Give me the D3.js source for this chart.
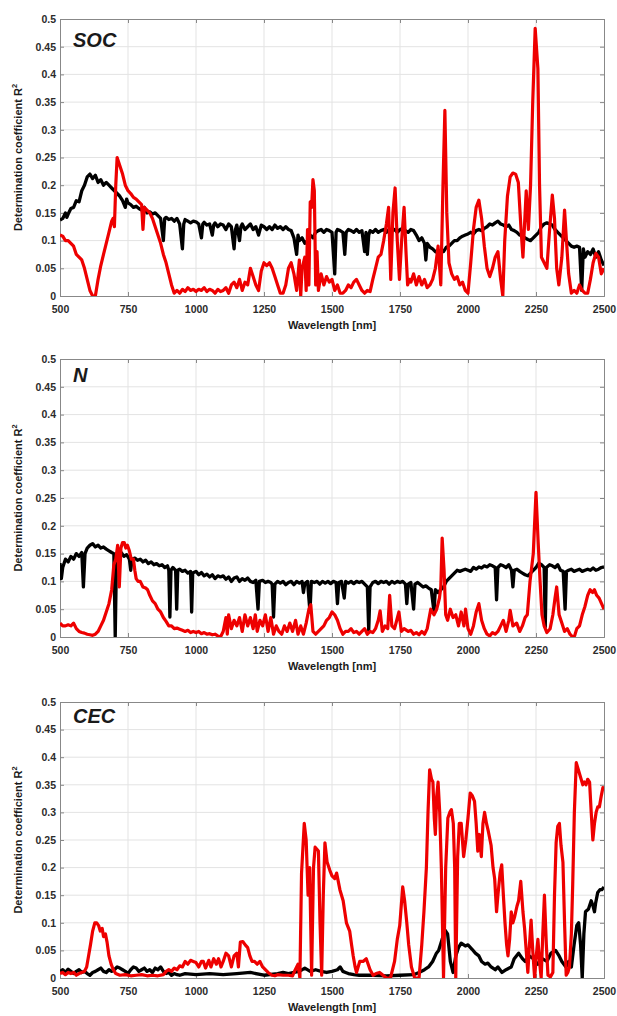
<!DOCTYPE html>
<html><head><meta charset="utf-8">
<script src="https://cdn.jsdelivr.net/npm/d3@7"></script>
<style>body{margin:0;background:#fff}svg{display:block}text{font-family:"Liberation Sans",Arial,sans-serif}</style>
</head><body><div id="chart"></div>
<script>
// ---- data ----
const panelLabels = ["SOC", "N", "CEC"];
const xTicks = [500, 750, 1000, 1250, 1500, 1750, 2000, 2250, 2500];
const yTicks = [0, 0.05, 0.1, 0.15, 0.2, 0.25, 0.3, 0.35, 0.4, 0.45, 0.5];
const yTickLabels = ["0", "0.05", "0.1", "0.15", "0.2", "0.25", "0.3", "0.35", "0.4", "0.45", "0.5"];
const xTitle = "Wavelength [nm]";
const yTitle = "Determination coefficient R";

const socBlack = [[500,.137],[510,.14],[520,.15],[525,.142],[530,.148],[540,.158],[550,.16],[560,.172],[570,.17],[580,.19],[590,.2],[600,.215],[610,.22],[620,.212],[630,.218],[640,.205],[650,.21],[660,.2],[670,.205],[680,.2],[690,.195],[700,.19],[710,.185],[720,.18],[730,.172],[740,.16],[745,.175],[750,.168],[760,.165],[770,.16],[780,.162],[790,.158],[800,.155],[810,.16],[820,.15],[830,.152],[840,.148],[850,.15],[860,.145],[870,.14],[880,.1],[885,.14],[890,.142],[900,.138],[910,.14],[920,.135],[930,.14],[940,.13],[950,.085],[955,.13],[960,.138],[970,.135],[980,.132],[990,.135],[1000,.134],[1010,.13],[1020,.105],[1025,.13],[1030,.133],[1040,.128],[1050,.13],[1060,.11],[1065,.128],[1070,.132],[1080,.125],[1090,.13],[1100,.128],[1110,.12],[1120,.13],[1130,.125],[1140,.085],[1145,.12],[1150,.128],[1160,.1],[1165,.125],[1170,.13],[1180,.12],[1190,.125],[1200,.13],[1210,.12],[1220,.125],[1230,.11],[1240,.128],[1250,.125],[1260,.12],[1270,.125],[1280,.12],[1290,.128],[1300,.122],[1310,.125],[1320,.12],[1330,.125],[1340,.12],[1350,.118],[1360,.105],[1370,.075],[1375,.11],[1380,.1],[1390,.105],[1400,.095],[1410,.1],[1420,.11],[1430,.105],[1440,.115],[1450,.118],[1460,.12],[1470,.115],[1480,.12],[1490,.118],[1500,.115],[1510,.04],[1515,.115],[1520,.12],[1530,.118],[1540,.115],[1547,.075],[1552,.115],[1560,.12],[1570,.118],[1580,.115],[1590,.12],[1600,.115],[1610,.118],[1620,.08],[1625,.115],[1630,.075],[1635,.11],[1640,.118],[1650,.115],[1660,.12],[1670,.115],[1680,.118],[1690,.12],[1700,.115],[1710,.12],[1720,.118],[1730,.12],[1740,.115],[1750,.12],[1760,.122],[1770,.118],[1780,.115],[1790,.12],[1800,.118],[1810,.11],[1820,.1],[1830,.105],[1840,.095],[1845,.065],[1850,.095],[1860,.088],[1870,.085],[1880,.08],[1890,.078],[1900,.082],[1910,.08],[1920,.088],[1930,.09],[1940,.095],[1950,.1],[1960,.1],[1970,.105],[1980,.108],[1990,.11],[2000,.112],[2010,.115],[2020,.112],[2030,.118],[2040,.12],[2050,.118],[2060,.122],[2070,.125],[2080,.13],[2090,.128],[2100,.132],[2110,.135],[2120,.13],[2130,.128],[2140,.125],[2150,.128],[2160,.12],[2170,.118],[2180,.115],[2190,.11],[2200,.108],[2210,.105],[2220,.102],[2230,.1],[2240,.105],[2250,.11],[2260,.115],[2270,.125],[2280,.13],[2290,.132],[2300,.13],[2310,.128],[2320,.12],[2330,.115],[2340,.11],[2350,.105],[2360,.1],[2370,.095],[2380,.09],[2390,.088],[2400,.09],[2410,.088],[2418,.01],[2424,.085],[2430,.07],[2440,.08],[2450,.075],[2460,.085],[2470,.07],[2480,.08],[2490,.065],[2500,.055]];

const socRed = [[500,.11],[510,.108],[520,.1],[530,.1],[540,.095],[550,.09],[560,.075],[570,.07],[580,.065],[590,.05],[600,.03],[610,.01],[620,0],[630,0],[640,.03],[650,.055],[660,.075],[670,.095],[680,.115],[690,.135],[695,.14],[700,.125],[705,.2],[710,.25],[720,.235],[730,.22],[740,.2],[750,.19],[760,.185],[770,.178],[780,.175],[790,.17],[800,.165],[805,.12],[810,.16],[820,.155],[830,.15],[840,.14],[850,.125],[860,.11],[870,.095],[880,.075],[890,.06],[900,.04],[910,.02],[920,.005],[930,.01],[940,.005],[950,.012],[960,.008],[970,.015],[980,.01],[990,.012],[1000,.008],[1010,.012],[1020,.01],[1030,.015],[1040,.008],[1050,.012],[1060,.01],[1070,.005],[1080,.012],[1090,.008],[1100,.01],[1110,.015],[1120,.005],[1130,.02],[1140,.025],[1150,.015],[1160,.03],[1170,.01],[1180,.025],[1190,.02],[1200,.05],[1210,.035],[1220,.02],[1230,.01],[1240,.045],[1250,.06],[1260,.055],[1270,.06],[1280,.05],[1290,.035],[1300,.02],[1310,.005],[1320,.005],[1330,.02],[1340,.05],[1350,.06],[1360,.04],[1370,.01],[1380,.065],[1385,0],[1390,.05],[1400,.07],[1405,.01],[1410,.12],[1415,.02],[1420,.17],[1425,.16],[1430,.21],[1435,.19],[1440,.02],[1445,.08],[1450,.01],[1460,.04],[1470,.02],[1480,.035],[1490,.025],[1500,.03],[1510,.01],[1520,.02],[1530,.005],[1540,.005],[1550,.01],[1560,.02],[1570,.015],[1580,.025],[1590,.03],[1600,.02],[1610,.01],[1620,.005],[1630,.01],[1640,.008],[1650,.03],[1660,.05],[1670,.07],[1680,.075],[1690,.1],[1700,.13],[1708,.16],[1716,.03],[1724,.15],[1732,.195],[1740,.1],[1748,.03],[1756,.1],[1765,.16],[1772,.08],[1778,.02],[1785,.03],[1790,.025],[1800,.04],[1810,.02],[1820,.035],[1830,.02],[1840,.03],[1850,.015],[1860,.02],[1870,.03],[1880,.05],[1890,.09],[1900,.02],[1908,.2],[1915,.335],[1922,.15],[1930,.06],[1940,.04],[1950,.03],[1960,.035],[1970,.02],[1980,.025],[1990,.01],[2000,.005],[2010,.06],[2020,.12],[2030,.16],[2040,.173],[2050,.14],[2060,.09],[2070,.05],[2080,.035],[2090,.05],[2100,.07],[2110,.08],[2120,.03],[2128,0],[2135,.1],[2145,.18],[2155,.215],[2165,.222],[2175,.22],[2185,.205],[2195,.12],[2202,.07],[2208,.13],[2214,.19],[2222,.12],[2230,.2],[2238,.35],[2247,.483],[2257,.41],[2263,.2],[2270,.07],[2280,.06],[2290,.05],[2300,.12],[2310,.182],[2318,.14],[2326,.05],[2334,.02],[2345,.07],[2355,.155],[2362,.1],[2370,.04],[2380,.005],[2390,.01],[2400,.005],[2410,.02],[2420,.01],[2430,.005],[2440,.005],[2450,.03],[2460,.06],[2470,.077],[2480,.07],[2490,.04],[2500,.05]];

const nBlack = [[500,.133],[505,.105],[510,.125],[520,.14],[530,.135],[540,.145],[550,.14],[560,.15],[570,.145],[580,.152],[586,.09],[592,.15],[600,.16],[610,.165],[620,.168],[630,.162],[640,.165],[650,.16],[660,.162],[670,.158],[680,.155],[690,.152],[698,.15],[703,0],[708,.15],[715,.148],[725,.152],[735,.145],[745,.148],[755,.14],[760,.12],[765,.14],[775,.142],[785,.138],[795,.14],[805,.135],[815,.138],[825,.132],[835,.135],[845,.13],[855,.132],[865,.128],[875,.13],[885,.125],[895,.128],[900,.12],[904,.036],[908,.12],[915,.125],[925,.12],[929,.05],[933,.12],[940,.122],[950,.118],[960,.12],[970,.115],[980,.118],[984,.045],[988,.115],[1000,.118],[1010,.112],[1020,.116],[1030,.11],[1040,.113],[1050,.108],[1060,.112],[1070,.105],[1080,.11],[1090,.108],[1100,.11],[1110,.104],[1120,.108],[1130,.1],[1140,.106],[1150,.108],[1160,.1],[1170,.105],[1180,.102],[1190,.106],[1200,.1],[1210,.098],[1220,.102],[1228,.05],[1233,.1],[1245,.102],[1255,.098],[1265,.1],[1275,.098],[1280,.095],[1285,.036],[1290,.095],[1300,.1],[1310,.097],[1320,.1],[1330,.094],[1340,.098],[1350,.1],[1360,.094],[1370,.1],[1380,.097],[1390,.1],[1395,.08],[1400,.096],[1410,.1],[1419,.045],[1424,.1],[1435,.098],[1445,.1],[1455,.095],[1465,.1],[1475,.097],[1485,.1],[1495,.096],[1505,.1],[1515,.098],[1520,.06],[1525,.098],[1535,.1],[1545,.07],[1550,.1],[1560,.097],[1570,.1],[1580,.096],[1590,.1],[1600,.098],[1610,.1],[1620,.095],[1630,.09],[1635,.012],[1640,.09],[1650,.098],[1660,.1],[1670,.096],[1680,.1],[1690,.098],[1700,.1],[1710,.095],[1720,.1],[1730,.097],[1740,.1],[1750,.098],[1760,.1],[1770,.095],[1775,.06],[1780,.095],[1790,.098],[1800,.05],[1805,.095],[1815,.098],[1825,.094],[1835,.09],[1845,.092],[1855,.088],[1865,.085],[1875,.045],[1880,.085],[1890,.08],[1900,.085],[1910,.09],[1920,.1],[1930,.105],[1940,.11],[1950,.115],[1960,.12],[1970,.118],[1980,.12],[1990,.122],[2000,.12],[2010,.118],[2020,.125],[2030,.122],[2040,.126],[2050,.124],[2060,.128],[2070,.126],[2080,.13],[2090,.128],[2100,.125],[2105,.067],[2110,.125],[2120,.13],[2130,.128],[2140,.125],[2150,.13],[2160,.12],[2165,.09],[2170,.12],[2180,.122],[2190,.118],[2200,.115],[2210,.112],[2220,.11],[2230,.115],[2240,.12],[2250,.125],[2260,.133],[2270,.13],[2280,.125],[2284,.018],[2288,.125],[2300,.13],[2310,.128],[2320,.125],[2330,.13],[2340,.12],[2350,.118],[2357,.05],[2362,.118],[2370,.12],[2380,.122],[2390,.118],[2400,.12],[2410,.122],[2420,.118],[2430,.12],[2440,.122],[2450,.12],[2460,.124],[2470,.12],[2480,.122],[2490,.125],[2500,.126]];

const nRed = [[500,.025],[510,.02],[520,.02],[530,.022],[540,.02],[550,.025],[560,.015],[570,.01],[580,.008],[590,.007],[600,.005],[610,.004],[620,.003],[630,.005],[640,.01],[650,.02],[660,.03],[670,.045],[680,.06],[690,.085],[698,.13],[705,.14],[712,.165],[718,.09],[724,.16],[730,.17],[736,.17],[742,.16],[748,.165],[755,.155],[762,.14],[770,.14],[775,.12],[780,.105],[787,.1],[795,.1],[805,.09],[815,.088],[822,.085],[830,.075],[840,.065],[850,.06],[860,.05],[870,.045],[880,.035],[890,.028],[900,.02],[910,.02],[920,.015],[930,.016],[940,.014],[950,.012],[960,.01],[970,.012],[980,.008],[990,.01],[1000,.008],[1010,.01],[1020,.006],[1030,.008],[1040,.005],[1050,.006],[1060,.004],[1070,.005],[1080,.002],[1090,0],[1100,.01],[1110,.035],[1115,.005],[1120,.04],[1130,.015],[1140,.03],[1150,.02],[1160,.035],[1170,.01],[1180,.04],[1190,.02],[1200,.035],[1210,.015],[1218,.04],[1225,.01],[1235,.03],[1245,.02],[1255,.04],[1265,.01],[1275,.035],[1285,.005],[1295,.02],[1305,.01],[1315,.005],[1325,.02],[1335,.01],[1345,.025],[1355,.01],[1366,.03],[1375,.005],[1385,.02],[1395,.005],[1405,.025],[1415,.05],[1422,.058],[1430,.01],[1440,.005],[1450,.01],[1460,.015],[1470,.02],[1480,.03],[1490,.035],[1500,.045],[1510,.04],[1520,.03],[1530,.015],[1540,.005],[1550,.01],[1560,.01],[1570,.015],[1580,.008],[1590,.01],[1600,.005],[1610,.01],[1620,.015],[1630,.005],[1640,.01],[1650,.008],[1660,.015],[1670,.03],[1677,.047],[1685,.01],[1695,.02],[1705,.015],[1712,.075],[1720,.02],[1730,.015],[1746,.045],[1755,.01],[1765,.015],[1780,.01],[1790,.012],[1800,.005],[1810,.008],[1820,.004],[1830,.01],[1840,.005],[1850,.015],[1863,.05],[1875,.04],[1885,.05],[1895,.07],[1900,.09],[1905,.178],[1912,.12],[1918,.04],[1925,.03],[1935,.05],[1945,.035],[1955,.04],[1965,.02],[1975,.045],[1985,.02],[1991,.05],[2000,.015],[2010,.005],[2020,.02],[2030,.045],[2040,.06],[2050,.03],[2060,.015],[2070,.005],[2080,.002],[2090,.008],[2100,.005],[2110,.01],[2120,.02],[2130,.03],[2140,.01],[2150,.03],[2155,.048],[2165,.02],[2179,.025],[2190,.01],[2200,.02],[2210,.035],[2218,.04],[2228,.1],[2240,.15],[2250,.26],[2258,.17],[2265,.1],[2272,.04],[2280,.02],[2290,.008],[2302,.015],[2312,.04],[2320,.07],[2326,.09],[2335,.04],[2345,.025],[2355,.01],[2365,.015],[2375,.005],[2385,0],[2392,.002],[2400,.015],[2410,.02],[2420,.04],[2430,.055],[2440,.075],[2449,.085],[2458,.08],[2465,.085],[2473,.075],[2482,.07],[2491,.06],[2500,.05]];

const cecBlack = [[500,.012],[510,.015],[520,.01],[530,.016],[540,.012],[550,.008],[560,.012],[570,.015],[580,.01],[590,.012],[600,.008],[610,.005],[620,.01],[630,.012],[640,.015],[650,.018],[660,.012],[670,.01],[680,.015],[690,.012],[700,.015],[710,.02],[720,.018],[730,.015],[740,.012],[750,.008],[760,.015],[770,.02],[780,.018],[790,.012],[800,.015],[810,.018],[820,.012],[830,.015],[840,.01],[850,.018],[860,.015],[870,.02],[880,.012],[890,.008],[900,.01],[910,.005],[920,.008],[930,.006],[940,.005],[960,.008],[1000,.006],[1050,.008],[1100,.006],[1150,.008],[1200,.01],[1250,.005],[1300,.008],[1320,.01],[1340,.008],[1360,.01],[1380,.012],[1400,.018],[1420,.012],[1440,.015],[1460,.012],[1480,.01],[1500,.012],[1520,.015],[1530,.02],[1540,.012],[1550,.01],[1560,.008],[1580,.006],[1600,.005],[1650,.005],[1700,.004],[1750,.005],[1800,.006],[1820,.01],[1840,.015],[1855,.02],[1870,.03],[1884,.045],[1892,.05],[1905,.07],[1915,.087],[1925,.08],[1935,.03],[1945,.01],[1955,.04],[1965,.055],[1975,.063],[1990,.058],[2000,.06],[2015,.052],[2027,.045],[2040,.04],[2050,.03],[2063,.025],[2073,.027],[2085,.02],[2100,.015],[2110,.02],[2125,.01],[2140,.015],[2159,.02],[2170,.035],[2186,.045],[2200,.035],[2210,.03],[2225,.04],[2240,.035],[2257,.025],[2273,.035],[2290,.03],[2305,.045],[2322,.05],[2335,.04],[2345,.03],[2360,.02],[2370,.03],[2380,.02],[2390,.06],[2400,.095],[2407,.1],[2414,.06],[2420,0],[2426,.08],[2432,.12],[2443,.125],[2453,.14],[2460,.13],[2465,.12],[2469,.135],[2477,.155],[2485,.16],[2492,.16],[2500,.165]];

const cecRed = [[500,.008],[510,.01],[520,.006],[530,.01],[540,.008],[550,.01],[560,.005],[570,.008],[580,.01],[590,.012],[598,.02],[605,.04],[612,.06],[620,.085],[628,.1],[635,.1],[642,.095],[648,.085],[655,.09],[660,.075],[667,.08],[673,.065],[680,.04],[688,.025],[696,.015],[705,.008],[720,.005],[740,.006],[760,.004],[780,.005],[800,.006],[820,.004],[840,.005],[860,.004],[880,.006],[890,.012],[900,.015],[910,.012],[920,.018],[930,.015],[940,.022],[950,.02],[960,.03],[970,.025],[980,.032],[990,.03],[1000,.028],[1010,.02],[1020,.03],[1027,.03],[1035,.018],[1047,.032],[1055,.02],[1065,.035],[1075,.025],[1083,.035],[1092,.02],[1100,.03],[1110,.045],[1120,.04],[1130,.02],[1140,.04],[1150,.045],[1156,.02],[1163,.065],[1172,.066],[1181,.06],[1190,.055],[1198,.04],[1206,.03],[1215,.03],[1225,.025],[1235,.03],[1245,.02],[1255,.015],[1265,.01],[1279,.005],[1290,.004],[1300,.006],[1320,.005],[1340,.005],[1355,.004],[1365,.015],[1375,.025],[1382,0],[1388,.19],[1398,.28],[1405,.25],[1412,.15],[1418,.2],[1425,.005],[1432,.2],[1438,.237],[1450,.23],[1456,.1],[1462,.005],[1468,.15],[1474,.245],[1482,.21],[1492,.195],[1500,.185],[1510,.18],[1517,.19],[1529,.16],[1541,.14],[1553,.1],[1565,.085],[1572,.06],[1578,.04],[1585,.02],[1590,.01],[1602,.03],[1614,.03],[1626,.035],[1640,.015],[1651,.005],[1662,.008],[1675,.01],[1690,.004],[1700,0],[1715,0],[1730,.03],[1740,.07],[1749,.095],[1760,.165],[1767,.14],[1775,.1],[1782,.06],[1792,.02],[1804,0],[1820,0],[1830,.06],[1838,.12],[1847,.2],[1853,.3],[1859,.377],[1866,.36],[1871,.355],[1876,.29],[1880,.26],[1885,.33],[1890,.355],[1896,.3],[1902,.2],[1910,0],[1918,.2],[1926,.29],[1933,.3],[1939,.305],[1946,.28],[1951,.2],[1955,0],[1962,.22],[1968,.28],[1975,.28],[1984,.22],[1992,.25],[2000,.29],[2008,.335],[2016,.33],[2024,.32],[2030,.28],[2036,.23],[2042,.26],[2049,.22],[2055,.28],[2061,.3],[2068,.28],[2075,.265],[2085,.24],[2092,.2],[2098,.18],[2105,.12],[2110,.15],[2118,.19],[2124,.205],[2130,.15],[2136,.1],[2142,.06],[2147,.04],[2153,.07],[2159,.12],[2165,.1],[2171,.11],[2180,.13],[2186,.14],[2194,.175],[2202,.12],[2208,.09],[2214,.05],[2220,.01],[2226,.06],[2232,.105],[2238,.05],[2245,0],[2251,.04],[2257,.07],[2263,.03],[2269,0],[2275,.08],[2281,.15],[2288,.06],[2294,.005],[2303,.002],[2312,.01],[2318,.15],[2324,.245],[2330,.275],[2336,.28],[2342,.24],[2349,.21],[2355,.1],[2361,.005],[2367,.01],[2373,.02],[2380,.08],[2385,.17],[2391,.3],[2398,.39],[2404,.38],[2410,.37],[2416,.36],[2422,.35],[2428,.355],[2434,.35],[2440,.36],[2447,.355],[2453,.3],[2459,.25],[2465,.28],[2471,.3],[2477,.31],[2483,.31],[2490,.33],[2496,.345],[2500,.34]];

const blackSeries = [socBlack, nBlack, cecBlack];
const redSeries = [socRed, nRed, cecRed];

// ---- layout ----
const W = 617, H = 1016;
const left = 60, right = 604;
const frames = [
  {top: 19, bottom: 296, labelY: 47},
  {top: 359, bottom: 637, labelY: 382},
  {top: 702, bottom: 978, labelY: 723}
];

const svg = d3.select("#chart").append("svg").attr("width", W).attr("height", H);
const x = d3.scaleLinear().domain([500, 2500]).range([left, right]);

frames.forEach((f, i) => {
  const y = d3.scaleLinear().domain([0, 0.5]).range([f.bottom, f.top]);
  const g = svg.append("g");
  const clipId = "clip" + i;
  svg.append("clipPath").attr("id", clipId).append("rect")
    .attr("x", left).attr("y", f.top - 2).attr("width", right - left).attr("height", f.bottom - f.top + 2);

  // grid
  g.append("g").selectAll("line").data(xTicks.slice(1, -1)).join("line")
    .attr("x1", d => x(d)).attr("x2", d => x(d)).attr("y1", f.top).attr("y2", f.bottom)
    .attr("stroke", "#e3e3e3").attr("stroke-width", 1);
  g.append("g").selectAll("line").data(yTicks.slice(1, -1)).join("line")
    .attr("y1", d => y(d)).attr("y2", d => y(d)).attr("x1", left).attr("x2", right)
    .attr("stroke", "#e3e3e3").attr("stroke-width", 1);

  // axes
  const xAxisB = d3.axisBottom(x).tickValues(xTicks).tickSize(-4).tickFormat(d => d);
  const xAxisT = d3.axisTop(x).tickValues(xTicks).tickSize(-4).tickFormat("");
  const yAxisL = d3.axisLeft(y).tickValues(yTicks).tickSize(-4).tickFormat((d, k) => yTickLabels[k]);
  const yAxisR = d3.axisRight(y).tickValues(yTicks).tickSize(-4).tickFormat("");

  const styleAx = sel => {
    sel.select(".domain").attr("stroke", "#888").attr("stroke-width", 1);
    sel.selectAll(".tick line").attr("stroke", "#888");
    sel.selectAll(".tick text").attr("fill", "#2b2b2b").attr("font-size", 10.5).attr("font-weight", "bold")
      .attr("font-family", "'Liberation Sans', Arial, sans-serif");
  };
  g.append("g").attr("transform", `translate(0,${f.bottom})`).call(xAxisB).call(styleAx)
    .selectAll(".tick text").attr("dy", null).attr("y", 17);
  g.append("g").attr("transform", `translate(0,${f.top})`).call(xAxisT).call(styleAx);
  g.append("g").attr("transform", `translate(${left},0)`).call(yAxisL).call(styleAx)
    .selectAll(".tick text").attr("x", -4);
  g.append("g").attr("transform", `translate(${right},0)`).call(yAxisR).call(styleAx);

  // lines
  const line = d3.line().x(d => x(d[0])).y(d => y(d[1]));
  const lg = g.append("g").attr("clip-path", `url(#${clipId})`);
  lg.append("path").datum(blackSeries[i]).attr("d", line)
    .attr("fill", "none").attr("stroke", "#000").attr("stroke-width", 3.3).attr("stroke-linejoin", "round");
  lg.append("path").datum(redSeries[i]).attr("d", line)
    .attr("fill", "none").attr("stroke", "#ee0000").attr("stroke-width", 3.2).attr("stroke-linejoin", "round");

  // panel label
  g.append("text").attr("x", 73).attr("y", f.labelY).text(panelLabels[i])
    .attr("font-size", 20).attr("font-weight", "bold").attr("font-style", "italic").attr("fill", "#1a1a1a");

  // x title
  g.append("text").attr("x", (left + right) / 2).attr("y", f.bottom + 33).attr("text-anchor", "middle")
    .attr("font-size", 11).attr("font-weight", "bold").attr("fill", "#1a1a1a").text(xTitle);

  // y title
  const yt = g.append("text").attr("transform", `translate(22,${(f.top + f.bottom) / 2}) rotate(-90)`)
    .attr("text-anchor", "middle").attr("font-size", 11).attr("font-weight", "bold").attr("fill", "#1a1a1a");
  yt.append("tspan").text(yTitle);
  yt.append("tspan").text("2").attr("font-size", 7.5).attr("dy", -5);
});
</script></body></html>
